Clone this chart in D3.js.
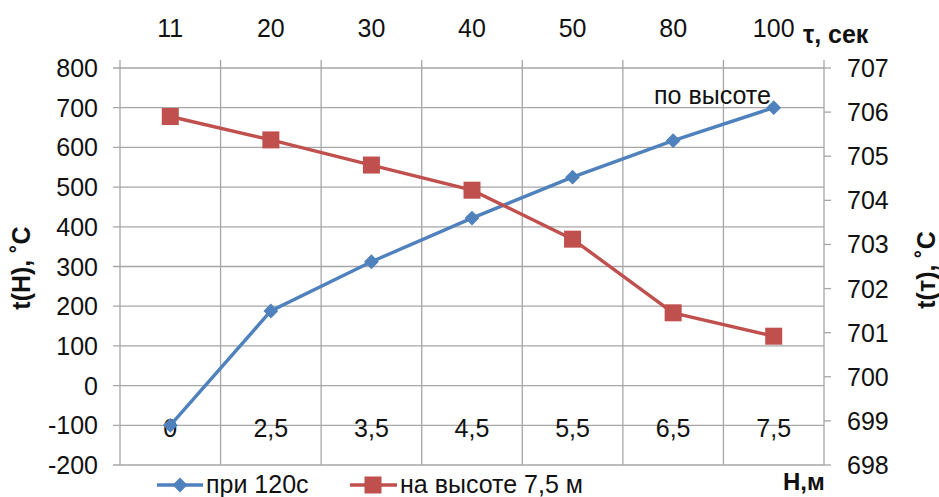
<!DOCTYPE html>
<html lang="ru">
<head>
  <meta charset="UTF-8">
  <title>t(H), t(τ)</title>
  <script src="https://cdnjs.cloudflare.com/ajax/libs/d3/7.8.5/d3.min.js"></script>
  <style>
    body { margin: 0; padding: 0; background: #fff; }
    svg { display: block; font-family: "Liberation Sans", Arial, sans-serif; }
  </style>
</head>
<body>
<svg id="chart" width="939" height="497"></svg>
<script>
  // categories: bottom axis (height H, m) and top axis (time τ, s)
  const heights = ["0", "2,5", "3,5", "4,5", "5,5", "6,5", "7,5"];
  const times = ["11", "20", "30", "40", "50", "80", "100"];
  // series "при 120с" on the left axis, t(H)
  const tempByHeight = [-100, 188, 312, 422, 525, 617, 700];
  // series "на высоте 7,5 м" on the right axis, t(τ)
  const tempByTime = [705.9, 705.37, 704.8, 704.23, 703.12, 701.45, 700.92];
  const leftTicks = d3.range(-200, 801, 100);
  const rightTicks = d3.range(698, 708, 1);

  const blue = "#4F81BD", red = "#C0504D", grid = "#a6a6a6";

  const svg = d3.select("#chart");
  const m = { left: 120, right: 824, top: 68, bottom: 465 };

  const x = d3.scaleBand().domain(d3.range(heights.length)).range([m.left, m.right]);
  const yL = d3.scaleLinear().domain([-200, 800]).range([m.bottom, m.top]);
  const yR = d3.scaleLinear().domain([698, 707]).range([m.bottom, m.top]);
  const cx = i => x(i) + x.bandwidth() / 2;

  // horizontal gridlines + left ticks
  svg.append("g").selectAll("line").data(leftTicks).join("line")
    .attr("x1", m.left - 7).attr("x2", m.right)
    .attr("y1", d => yL(d)).attr("y2", d => yL(d))
    .attr("stroke", grid).attr("stroke-width", 1.3);

  // vertical gridlines (category borders), with small top marks
  const borders = d3.range(heights.length + 1).map(i => m.left + i * x.bandwidth());
  svg.append("g").selectAll("line").data(borders).join("line")
    .attr("x1", d => d).attr("x2", d => d)
    .attr("y1", m.top - 8).attr("y2", m.bottom)
    .attr("stroke", grid).attr("stroke-width", 1.3);

  // right axis ticks
  svg.append("g").selectAll("line").data(rightTicks).join("line")
    .attr("x1", m.right).attr("x2", m.right + 7)
    .attr("y1", d => yR(d)).attr("y2", d => yR(d))
    .attr("stroke", grid).attr("stroke-width", 1.3);

  const fs = 25;
  // left tick labels
  svg.append("g").selectAll("text").data(leftTicks).join("text")
    .attr("x", 98).attr("y", d => yL(d) + 9)
    .attr("text-anchor", "end").attr("font-size", fs).attr("fill", "#111")
    .text(d => d);
  // right tick labels
  svg.append("g").selectAll("text").data(rightTicks).join("text")
    .attr("x", 847).attr("y", d => yR(d) + 9)
    .attr("font-size", fs).attr("fill", "#111")
    .text(d => d);
  // top labels (τ)
  svg.append("g").selectAll("text").data(times).join("text")
    .attr("x", (d, i) => cx(i)).attr("y", 37)
    .attr("text-anchor", "middle").attr("font-size", fs).attr("fill", "#111")
    .text(d => d);
  // bottom labels (H), drawn at the -100 level
  svg.append("g").selectAll("text").data(heights).join("text")
    .attr("x", (d, i) => cx(i)).attr("y", yL(-100) + 12)
    .attr("text-anchor", "middle").attr("font-size", fs).attr("fill", "#111")
    .text(d => d);

  // axis titles
  svg.append("text").attr("x", 803).attr("y", 43)
    .attr("font-size", 25).attr("font-weight", "bold").attr("fill", "#111")
    .text("τ, сек");
  svg.append("text").attr("x", 783).attr("y", 490)
    .attr("font-size", 24).attr("font-weight", "bold").attr("fill", "#111")
    .text("Н,м");
  svg.append("text")
    .attr("transform", "translate(30,268) rotate(-90)")
    .attr("text-anchor", "middle").attr("font-size", 25).attr("font-weight", "bold").attr("fill", "#111")
    .text("t(H), ˚C");
  svg.append("text")
    .attr("transform", "translate(935,270) rotate(-90)")
    .attr("text-anchor", "middle").attr("font-size", 25).attr("font-weight", "bold").attr("fill", "#111")
    .text("t(т), ˚C");

  // series lines
  const lineL = d3.line().x((d, i) => cx(i)).y(d => yL(d));
  const lineR = d3.line().x((d, i) => cx(i)).y(d => yR(d));
  svg.append("path").datum(tempByHeight).attr("d", lineL)
    .attr("fill", "none").attr("stroke", blue).attr("stroke-width", 3.4);
  svg.append("path").datum(tempByTime).attr("d", lineR)
    .attr("fill", "none").attr("stroke", red).attr("stroke-width", 3.4);

  const diamond = d3.symbol().type(d3.symbolSquare).size(110);
  svg.append("g").selectAll("path").data(tempByHeight).join("path")
    .attr("transform", (d, i) => `translate(${cx(i)},${yL(d)}) rotate(45)`)
    .attr("d", diamond).attr("fill", blue);
  svg.append("g").selectAll("rect").data(tempByTime).join("rect")
    .attr("x", (d, i) => cx(i) - 8.5).attr("y", d => yR(d) - 8.5)
    .attr("width", 17).attr("height", 17).attr("fill", red);

  // label near the last point
  svg.append("text").attr("x", 654).attr("y", 104)
    .attr("font-size", 25).attr("fill", "#111").text("по высоте");

  // legend
  const lg = svg.append("g");
  lg.append("line").attr("x1", 157).attr("x2", 203).attr("y1", 485).attr("y2", 485)
    .attr("stroke", blue).attr("stroke-width", 3.4);
  lg.append("path").attr("transform", "translate(180,485) rotate(45)")
    .attr("d", diamond).attr("fill", blue);
  lg.append("text").attr("x", 206).attr("y", 493).attr("font-size", fs).attr("fill", "#111").text("при 120с");
  lg.append("line").attr("x1", 350).attr("x2", 397).attr("y1", 485).attr("y2", 485)
    .attr("stroke", red).attr("stroke-width", 3.4);
  lg.append("rect").attr("x", 364.5).attr("y", 476.5).attr("width", 17).attr("height", 17).attr("fill", red);
  lg.append("text").attr("x", 400).attr("y", 493).attr("font-size", fs).attr("fill", "#111").text("на высоте 7,5 м");
</script>
</body>
</html>
